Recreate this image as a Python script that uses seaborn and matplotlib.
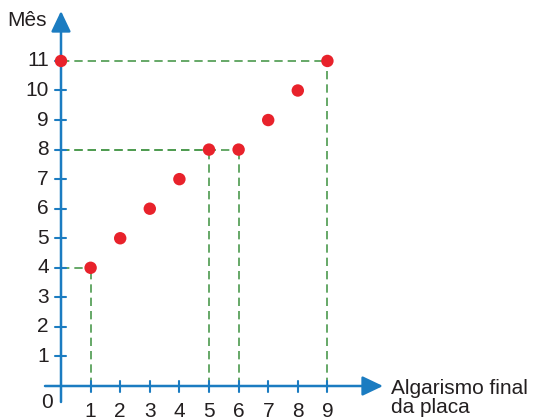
import matplotlib
matplotlib.use("Agg")
import matplotlib.pyplot as plt
import seaborn as sns
import pandas as pd

# Final digit of the licence plate and the month of licensing
digits = [0, 1, 2, 3, 4, 5, 6, 7, 8, 9]
months = [11, 4, 5, 6, 7, 8, 8, 9, 10, 11]
x_ticks = [1, 2, 3, 4, 5, 6, 7, 8, 9]
y_ticks = [1, 2, 3, 4, 5, 6, 7, 8, 9, 10, 11]
guided = [(1, 4), (5, 8), (6, 8), (9, 11)]

BLUE = "#1b7cc1"
RED = "#e8222b"
GREEN = "#4b9a4e"
INK = "#231f20"

sns.set_theme(style="white")
plt.rcParams["font.family"] = ["Liberation Sans", "DejaVu Sans"]

df = pd.DataFrame({"Algarismo": digits, "Mês": months})

fig = plt.figure(figsize=(5.33, 4.19), dpi=100)
ax = fig.add_axes([0, 0, 1, 1])

# pixel-to-data helpers (origin of the diagram at pixel (61, 386))
sx, sy = 29.6, 29.55
px = lambda p: (p - 61) / sx
py = lambda p: (386 - p) / sy

ax.set_xlim(px(0), px(533))
ax.set_ylim(py(419), py(0))

# dashed guides from selected points to the axes
dash = dict(color=GREEN, lw=1.2, ls=(0, (5, 3)), zorder=1)
for gx, gy in guided:
    ax.plot([gx, gx], [0, gy], **dash)
    ax.plot([0, gx], [gy, gy], **dash)

# axes with arrowheads
arrow = dict(arrowstyle="-|>,head_length=1.05,head_width=0.5",
             color=BLUE, lw=1.8, shrinkA=0, shrinkB=0)
ax.annotate("", xy=(px(383), 0), xytext=(px(45), 0), arrowprops=arrow, zorder=2)
ax.annotate("", xy=(0, py(11)), xytext=(0, py(402)), arrowprops=arrow, zorder=2)

tick = 5.5
fs = 15
for t in x_ticks:
    ax.plot([t, t], [-tick / sy, tick / sy], color=BLUE, lw=1.5, zorder=2)
    ax.text(t, py(411), str(t), ha="center", va="center", fontsize=fs, color=INK)
for t in y_ticks:
    ax.plot([-tick / sx, tick / sx], [t, t], color=BLUE, lw=1.5, zorder=2)
    ax.text(px(49), t, str(t), ha="right", va="center", fontsize=fs, color=INK)
ax.text(px(53), py(402), "0", ha="right", va="center", fontsize=fs, color=INK)

ax.text(px(7), py(20), "Mês", ha="left", va="center", fontsize=fs, color=INK)
ax.text(px(391), py(398), "Algarismo final\nda placa", ha="left", va="center",
        fontsize=fs, color=INK, linespacing=1.05)

sns.scatterplot(data=df, x="Algarismo", y="Mês", ax=ax, color=RED, s=80,
                edgecolor="none", zorder=3, legend=False)
ax.set_xlabel("")
ax.set_ylabel("")
ax.axis("off")

fig.savefig("out.png", dpi=100)
